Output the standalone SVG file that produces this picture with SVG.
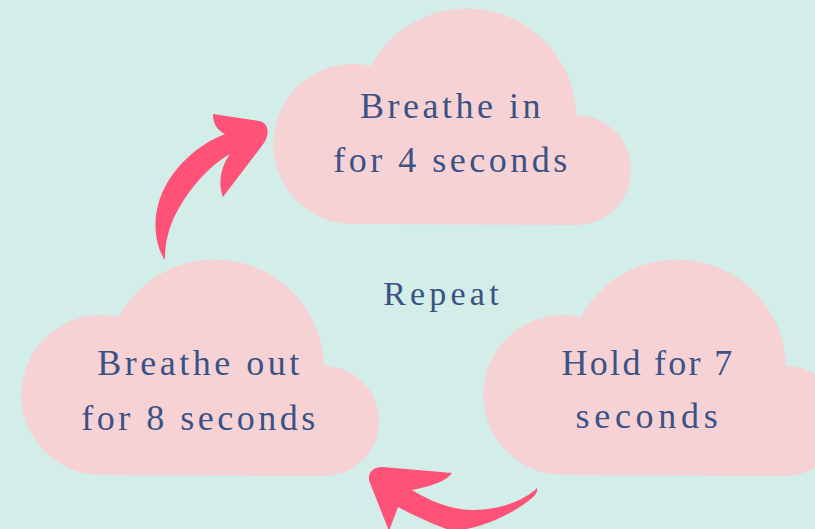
<svg xmlns="http://www.w3.org/2000/svg" xmlns:xlink="http://www.w3.org/1999/xlink" width="815" height="529" viewBox="0 0 815 529">
  <style>
    .cloud { fill: #F6D2D5; }
    .lbl { font-family: "Liberation Serif", "Times New Roman", serif; font-size: 36px; fill: #3A5285; letter-spacing: 3.5px; text-anchor: middle; }
    .arrow { fill: #FF5279; }
  </style>
  <defs>
    <path id="cloudShape" d="M355,224 A80,80 0 1 1 371,66 A109,109 0 0 1 576,115 A55,55 0 0 1 576,225 Z"/>
  </defs>
  <rect x="0" y="0" width="815" height="529" fill="#D3EDE9"/>

  <g id="connectors">
    <path class="arrow" d="M164,259 C151,236 152,202 173,174 C188,154 205,142 225,134 C217,130 213,124 213,114 L259,121 C266,122 269,129 267,136 C266,141 263,144 261,147 L223,197 C218,185 220,168 230,154 C205,168 181,199 171,225 C166,238 165,250 165,259 Z"/>
    <path class="arrow" d="M537,488 C525,500 500,510 473,510 C450,510 428,500 412,490 C432,486 447,481 452,473 L383,467 C373,466 366,474 370,483 L389,531 L398,507 C415,516 432,524 452,531 C480,529 510,516 532,498 C536,495 538,491 537,488 Z"/>
  </g>

  <g id="node-breathe-in">
    <use xlink:href="#cloudShape" class="cloud"/>
    <text class="lbl" x="452" y="118">Breathe in</text>
    <text class="lbl" x="452" y="172">for 4 seconds</text>
  </g>

  <g id="node-breathe-out">
    <use xlink:href="#cloudShape" class="cloud" transform="translate(-252,251)"/>
    <text class="lbl" x="200" y="375">Breathe out</text>
    <text class="lbl" x="200" y="430">for 8 seconds</text>
  </g>

  <g id="node-hold">
    <use xlink:href="#cloudShape" class="cloud" transform="translate(210,251)"/>
    <text class="lbl" x="648" y="375" style="letter-spacing:2.3px">Hold for 7</text>
    <text class="lbl" x="649" y="428" style="letter-spacing:4.7px">seconds</text>
  </g>

  <g id="node-repeat">
    <text class="lbl" x="443" y="305" style="font-size:34px; letter-spacing:4.2px">Repeat</text>
  </g>
</svg>
